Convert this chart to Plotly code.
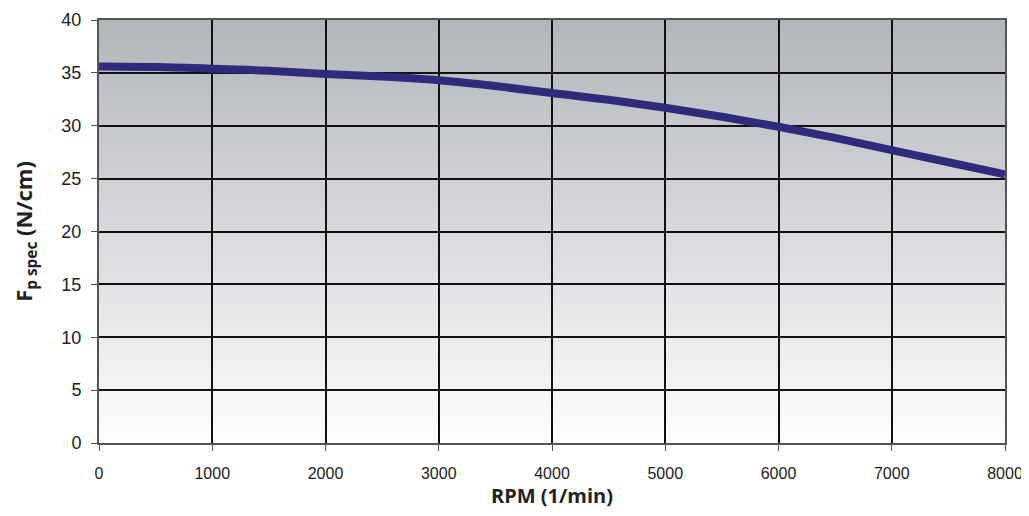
import plotly.graph_objects as go

rpm = [0, 500, 1000, 1500, 2000, 2500, 3000, 3500, 4000, 4500, 5000, 5500, 6000, 6500, 7000, 7500, 8000]
force = [35.6, 35.55, 35.4, 35.2, 34.9, 34.65, 34.3, 33.75, 33.1, 32.45, 31.7, 30.85, 29.9, 28.85, 27.7, 26.55, 25.4]

x_ticks = [0, 1000, 2000, 3000, 4000, 5000, 6000, 7000, 8000]
y_ticks = [0, 5, 10, 15, 20, 25, 30, 35, 40]

fig = go.Figure()
fig.add_trace(go.Scatter(x=rpm, y=force, mode="lines", line=dict(color="#2f2b7c", width=8, shape="spline"), showlegend=False))

# gradient background
n = 120
top = (178, 181, 186)
bot = (253, 253, 254)
shapes = []
for i in range(n):
    t = i / (n - 1)
    c = tuple(round(top[k] + (bot[k] - top[k]) * t) for k in range(3))
    shapes.append(dict(type="rect", xref="x domain", yref="y domain", x0=0, x1=1,
                       y0=1 - (i + 1) / n, y1=1 - i / n + 0.002,
                       fillcolor="rgb(%d,%d,%d)" % c, line=dict(width=0), layer="below"))

fig.update_layout(
    width=1021, height=508,
    margin=dict(l=91, r=24, t=12, b=73),
    paper_bgcolor="white", plot_bgcolor="white",
    shapes=shapes,
    xaxis=dict(range=[0, 8000], tickvals=x_ticks, showgrid=True, gridcolor="#111111", gridwidth=2,
               showline=True, linecolor="#555555", linewidth=2, mirror=True, automargin=False,
               ticks="outside", ticklen=6, tickcolor="#555555", zeroline=False, ticklabelstandoff=9,
               tickfont=dict(family="Liberation Sans, Arial", size=16, color="#222222"),
               title=dict(text="<b>RPM (1/min)</b>", font=dict(family="Open Sans", size=20, color="#222222"), standoff=5)),
    yaxis=dict(range=[0, 40], tickvals=y_ticks, showgrid=True, gridcolor="#111111", gridwidth=2,
               showline=True, linecolor="#555555", linewidth=2, mirror=True, automargin=False,
               ticks="outside", ticklen=6, tickcolor="#555555", zeroline=False, ticklabelstandoff=6,
               tickfont=dict(family="Liberation Sans, Arial", size=18, color="#222222"),
               title=dict(text="<b>F<sub>p spec</sub> (N/cm)</b>", font=dict(family="Open Sans", size=22, color="#222222"), standoff=26)),
)

fig.write_html("out.html")
